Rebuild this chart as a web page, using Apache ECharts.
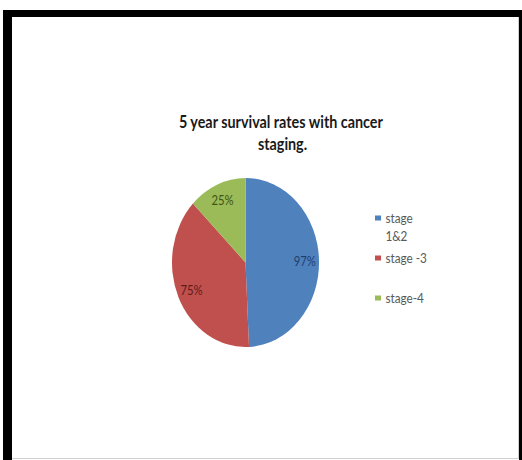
<!DOCTYPE html>
<html>
<head>
<meta charset="utf-8">
<script src="https://cdn.jsdelivr.net/npm/echarts@6/dist/echarts.min.js"></script>
<style>
  html, body { margin: 0; padding: 0; background: #fff; }
  body { width: 522px; height: 460px; position: relative; overflow: hidden; }
  /* chart is laid out wider and squeezed horizontally, like the slide it comes from */
  #chart { position: absolute; left: 0; top: 0; width: 600px; height: 460px;
           transform: scaleX(0.87); transform-origin: 0 0; }
  #frame { position: absolute; left: 3px; top: 10px; width: 519px; height: 450px;
           box-sizing: border-box; border-left: 9px solid #000; border-top: 7px solid #000;
           border-right: 3px solid #000; pointer-events: none; }
  #inner { position: absolute; left: 12px; top: 17px; width: 507px; height: 442px;
           box-sizing: border-box; border: 1px solid #d0d0d0; border-left: none; border-top: none;
           pointer-events: none; }
</style>
</head>
<body>
<div id="chart"></div>
<div id="inner"></div>
<div id="frame"></div>
<script>
// Five-year survival by cancer stage
const categories = ['stage 1&2', 'stage -3', 'stage-4'];
const survivalRates = [97, 75, 25];
const titleText = '5 year survival rates with cancer staging.';

const sliceColors = ['#4f81bd', '#c0504d', '#9bbb59'];
const labelColors = ['#1f3f70', '#5e1c19', '#3f5316'];

const FONT = 'Lato, "Open Sans", sans-serif';
const R = 84.5;
const CENTER = [282.2, 262.5];

const pieData = categories.map((name, i) => ({
  name,
  value: survivalRates[i],
  itemStyle: { color: sliceColors[i] }
}));

const labelData = categories.map((name, i) => ({
  name,
  value: survivalRates[i],
  label: { color: labelColors[i] }
}));

// one legend block per stage so each entry sits on its own row;
// the first name wraps onto a second line, kept level with its swatch
const legendTops = [191, 249, 289];
const legends = categories.map((name, i) => ({
  data: [name],
  orient: 'vertical',
  left: 431,
  top: legendTops[i],
  padding: 0,
  itemWidth: 7,
  itemHeight: 5,
  icon: 'rect',
  selectedMode: false,
  formatter: i === 0 ? (n => '\n' + n.replace(' ', '\n')) : (n => n),
  textStyle: {
    fontFamily: FONT,
    fontSize: 13.5,
    color: '#595959',
    lineHeight: 18
  }
}));

const chart = echarts.init(document.getElementById('chart'), null, { renderer: 'svg' });
chart.setOption({
  animation: false,
  backgroundColor: 'transparent',
  title: {
    text: titleText,
    left: 324.7,
    top: 110.5,
    textAlign: 'center',
    padding: 0,
    textStyle: {
      fontFamily: FONT,
      fontWeight: 'bold',
      fontSize: 16.5,
      color: '#1a1a1a',
      lineHeight: 22,
      width: 270,
      overflow: 'break'
    }
  },
  legend: legends,
  series: [
    {
      type: 'pie',
      center: CENTER,
      radius: R,
      startAngle: 90,
      clockwise: true,
      silent: true,
      itemStyle: { borderWidth: 0 },
      label: { show: false },
      labelLine: { show: false },
      data: pieData
    },
    {
      // transparent ring that carries the value labels toward the rim
      type: 'pie',
      center: CENTER,
      radius: [R * 0.54, R],
      startAngle: 90,
      clockwise: true,
      silent: true,
      avoidLabelOverlap: false,
      itemStyle: { color: 'rgba(0,0,0,0)', borderWidth: 0 },
      label: {
        show: true,
        position: 'inside',
        formatter: '{c}%',
        fontFamily: FONT,
        fontSize: 13,
        textBorderWidth: 0
      },
      labelLine: { show: false },
      data: labelData
    }
  ]
});
</script>
</body>
</html>
